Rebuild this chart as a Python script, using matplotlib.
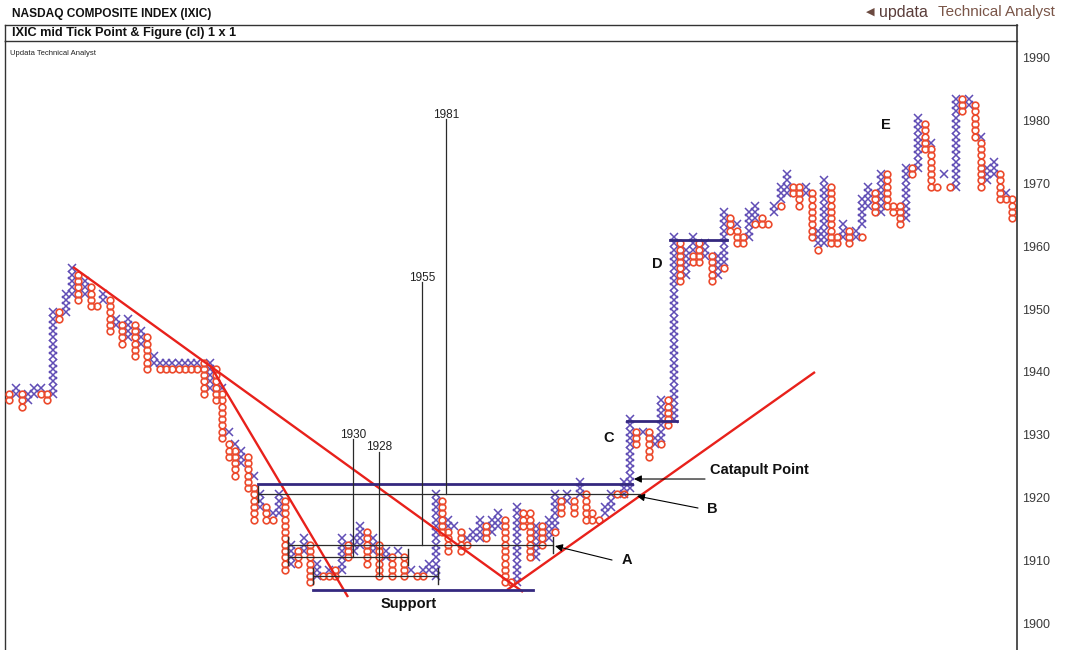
import matplotlib
matplotlib.use("Agg")
import matplotlib.pyplot as plt
from matplotlib.lines import Line2D

plt.rcParams['font.family'] = ['Liberation Sans', 'DejaVu Sans']

N = None
# ---- Point & Figure columns: (X boxes (low, high), O boxes (low, high)) ----
cols_start = [
    (N, (1935, 1936)), ((1936, 1937), N), (N, (1934, 1936)), ((1935, 1936), N),
    ((1936, 1937), N), ((1937, 1937), (1936, 1936)), (N, (1935, 1936)),
    ((1936, 1949), N), (N, (1948, 1949)), ((1949, 1952), N), ((1952, 1956), N),
    (N, (1951, 1955)), ((1952, 1954), N), (N, (1950, 1953)), (N, (1950, 1950)),
    ((1951, 1952), N), (N, (1946, 1951)), ((1947, 1948), N), (N, (1944, 1947)),
    ((1945, 1948), N), (N, (1942, 1947)), ((1944, 1946), N), (N, (1940, 1945)),
    ((1941, 1942), N),
]
cols_flat = [((1941, 1941), (1940, 1940))] * 7
cols_fall = [
    (N, (1936, 1941)), ((1937, 1941), N), (N, (1935, 1940)),
    ((1937, 1937), (1929, 1936)), ((1930, 1930), (1926, 1928)),
    ((1928, 1928), (1923, 1927)), ((1925, 1927), N), (N, (1921, 1926)),
    ((1923, 1923), (1916, 1921)), ((1918, 1920), N), (N, (1916, 1918)),
    ((1917, 1917), (1916, 1916)), ((1917, 1920), N), (N, (1908, 1919)),
]
cols_base = [
    ((1909, 1912), N), (N, (1909, 1911)), ((1911, 1913), N), (N, (1906, 1912)),
    ((1907, 1909), N), (N, (1907, 1907)), ((1908, 1908), (1907, 1907)),
    (N, (1907, 1908)), ((1908, 1913), N), (N, (1910, 1912)), ((1911, 1913), N),
    ((1912, 1915), N), (N, (1909, 1914)), ((1911, 1913), N), (N, (1907, 1912)),
    ((1910, 1911), N), (N, (1907, 1910)), ((1911, 1911), N), (N, (1907, 1910)),
    ((1908, 1908), N), (N, (1907, 1907)), ((1908, 1908), (1907, 1907)),
    ((1908, 1909), N), ((1907, 1920), N), (N, (1914, 1919)),
    ((1915, 1916), (1911, 1914)), ((1915, 1915), N), (N, (1911, 1914)),
    ((1913, 1913), (1912, 1912)), ((1913, 1914), N), ((1913, 1916), N),
    (N, (1913, 1915)), ((1914, 1916), N), ((1915, 1917), N), (N, (1906, 1916)),
    (N, (1906, 1906)), ((1906, 1918), N), (N, (1915, 1917)), (N, (1910, 1917)),
    ((1910, 1915), N), (N, (1912, 1915)), ((1913, 1916), N),
    ((1915, 1920), (1914, 1914)), (N, (1917, 1919)), ((1919, 1920), N),
    (N, (1917, 1919)), ((1920, 1922), N), (N, (1916, 1920)), (N, (1916, 1917)),
    (N, (1916, 1916)), ((1917, 1918), N), ((1918, 1920), N), (N, (1920, 1920)),
    ((1920, 1922), (1920, 1920)),
]
cols_breakout = [
    ((1921, 1932), N), (N, (1928, 1930)), ((1930, 1930), N), (N, (1926, 1930)),
    ((1928, 1929), N), ((1929, 1935), (1928, 1928)), (N, (1931, 1935)),
    ((1932, 1961), N), (N, (1954, 1960)), ((1955, 1959), N),
    ((1959, 1961), (1957, 1958)), (N, (1957, 1960)), ((1958, 1960), N),
    (N, (1954, 1958)), ((1955, 1958), N), ((1957, 1965), (1956, 1956)),
    (N, (1962, 1964)), ((1963, 1963), (1960, 1962)), (N, (1960, 1961)),
    ((1961, 1965), N), ((1964, 1966), (1963, 1963)), (N, (1963, 1964)),
    (N, (1963, 1963)), ((1965, 1966), N), ((1967, 1969), (1966, 1966)),
    ((1968, 1971), N), (N, (1968, 1969)), (N, (1966, 1969)), ((1968, 1969), N),
    (N, (1961, 1968)), ((1960, 1962), (1959, 1959)), ((1960, 1970), N),
    (N, (1960, 1969)), (N, (1960, 1961)), ((1961, 1963), N), (N, (1960, 1962)),
    ((1961, 1962), N), ((1963, 1967), (1961, 1961)), ((1966, 1969), N),
    (N, (1965, 1968)), ((1965, 1971), N), (N, (1966, 1971)), (N, (1965, 1966)),
    (N, (1963, 1966)), ((1964, 1972), N), (N, (1971, 1972)), ((1972, 1980), N),
    (N, (1975, 1979)), ((1976, 1976), (1969, 1975)), (N, (1969, 1969)),
    ((1971, 1971), N), (N, (1969, 1969)),
]
cols_top = [
    ((1969, 1983), N), (N, (1981, 1983)), ((1982, 1983), N), (N, (1977, 1982)),
    ((1977, 1977), (1969, 1976)), ((1970, 1972), N), ((1971, 1973), N),
    (N, (1967, 1971)), ((1968, 1968), (1967, 1967)), (N, (1964, 1967)),
]
columns = cols_start + cols_flat + cols_fall + cols_base + cols_breakout + cols_top

price_ticks = list(range(1900, 1991, 10))

# ---- annotations (column index, price) ----
trend_lines = [((10.16, 1956.72), (81.93, 1904.97)),
               ((32.01, 1941.11), (54.02, 1904.17)),
               ((79.38, 1905.29), (128.50, 1940.00))]
blue_levels = [(1922.17, 39.66, 99.31), (1932.2, 98.52, 106.49),
               (1961.02, 105.38, 114.47), (1905.29, 48.44, 83.52)]
count_lines = [(1920.57, 39.66, 100.59, True, False),
               (1912.45, 44.45, 86.72, True, True),
               (1910.54, 44.45, 63.59, True, True),
               (1907.52, 48.44, 68.37, True, True)]
targets = [("1930", 54.82, 1910.54, 1930), ("1928", 58.96, 1907.52, 1928),
           ("1955", 65.82, 1912.45, 1955), ("1981", 69.65, 1920.57, 1981)]
arrows = [("Catapult Point", (110.96, 1922.96), (99.63, 1922.96), (111.75, 1924.4)),
          ("B", (109.84, 1918.34), (100.11, 1920.25), (111.28, 1918.18)),
          ("A", (96.13, 1910.06), (87.03, 1912.29), (97.72, 1910.06))]
letters = [("C", 95.65, 1929.49), ("D", 103.30, 1957.2), ("E", 139.82, 1979.33),
           ("Support", 63.75, 1903.06)]

W, H = 1077, 650
fig = plt.figure(figsize=(W / 100, H / 100), dpi=100)
fig.patch.set_facecolor('white')

def fx(px):
    return px / W

def fy(py):
    return 1 - py / H

ax = fig.add_axes([fx(5), 0, fx(1017) - fx(5), fy(41)])
ax.set_xlim((5 - 9.3) / 6.27, (1017 - 9.3) / 6.27)
ax.set_ylim(1990 - (650 - 58) / 6.28, 1990 + (58 - 41) / 6.28)

XCOL = '#604db5'
OCOL = '#ec4a2c'
xs_x, xs_y, os_x, os_y = [], [], [], []
for i, (xr, orr) in enumerate(columns):
    if xr:
        for p in range(xr[0], xr[1] + 1):
            xs_x.append(i); xs_y.append(p + 0.5)
    if orr:
        for p in range(orr[0], orr[1] + 1):
            os_x.append(i); os_y.append(p + 0.5)
ax.plot(xs_x, xs_y, linestyle='none', marker='x', ms=5.4, mew=1.1, color=XCOL, zorder=3)
ax.plot(os_x, os_y, linestyle='none', marker='o', ms=4.8, mew=1.2, mfc='none', mec=OCOL, zorder=3)

for (x0, y0), (x1, y1) in trend_lines:
    ax.plot([x0, x1], [y0, y1], color='#e8211b', lw=1.7, zorder=4, solid_capstyle='butt')
for lvl, a, b in blue_levels:
    ax.plot([a, b], [lvl, lvl], color='#34287f', lw=2.0, zorder=4)
for lvl, a, b, capl, capr in count_lines:
    ax.plot([a, b], [lvl, lvl], color='#2a2a2a', lw=0.9, zorder=4)
    if capl:
        ax.plot([a, a], [lvl - 1.2, lvl + 1.2], color='#2a2a2a', lw=1.0, zorder=4)
    if capr:
        ax.plot([b, b], [lvl - 1.2, lvl + 1.2], color='#2a2a2a', lw=1.0, zorder=4)
for lab, xc, base, tgt in targets:
    ax.plot([xc, xc], [base, tgt - 0.7], color='#2a2a2a', lw=0.9, zorder=4)
    ax.text(xc, tgt, lab, ha='center', va='center', fontsize=8.5, color='#222222',
            zorder=5)
for lab, start, end, tpos in arrows:
    ax.annotate('', xy=end, xytext=start,
                arrowprops=dict(arrowstyle='-|>', color='black', lw=0.8, mutation_scale=11,
                                shrinkA=0, shrinkB=0), zorder=5)
    ax.text(tpos[0], tpos[1], lab, ha='left', va='center', fontsize=10.5, fontweight='bold',
            color='#111111')
for lab, xc, yc in letters:
    ax.text(xc, yc, lab, ha='center', va='center', fontsize=10.5, fontweight='bold',
            color='#111111')

ax.text(0.005, 0.985, 'Updata Technical Analyst', transform=ax.transAxes, fontsize=5.5,
        ha='left', va='top', color='#222222')

ax.set_xticks([])
ax.yaxis.tick_right()
ax.set_yticks(price_ticks)
ax.set_yticklabels([str(t) for t in price_ticks])
ax.tick_params(axis='y', length=0, pad=4, labelsize=9, labelcolor='#3a3a3a')
for s in ['bottom', 'top']:
    ax.spines[s].set_visible(False)
ax.spines['left'].set_color('#333333')
ax.spines['left'].set_linewidth(1.0)
ax.spines['right'].set_visible(False)

# frame lines of the header boxes and axis panel
fig.add_artist(Line2D([fx(5), fx(1017)], [fy(25), fy(25)], color='#333333', lw=1.0))
fig.add_artist(Line2D([fx(5), fx(1017)], [fy(41), fy(41)], color='#333333', lw=1.0))
fig.add_artist(Line2D([fx(5), fx(5)], [fy(25), fy(41)], color='#333333', lw=1.0))
fig.add_artist(Line2D([fx(1017), fx(1017)], [fy(25), 0], color='#333333', lw=1.2))

fig.text(fx(12), fy(14), 'NASDAQ COMPOSITE INDEX (IXIC)', fontsize=8.6, fontweight='bold',
         ha='left', va='center', color='#111111')
fig.text(fx(12), fy(33), 'IXIC mid Tick Point & Figure (cl) 1 x 1', fontsize=9.2,
         fontweight='bold', ha='left', va='center', color='#111111')
fig.text(fx(866), fy(12), '\u25c0', fontsize=8, ha='left', va='center', color='#6b4a40',
         family=['DejaVu Sans'])
fig.text(fx(879), fy(12), 'updata', fontsize=11.5, ha='left', va='center', color='#5a3d3a')
fig.text(fx(938), fy(12), 'Technical Analyst', fontsize=11, ha='left', va='center',
         color='#7a5548')

fig.savefig('out.png', dpi=100, facecolor='white')
